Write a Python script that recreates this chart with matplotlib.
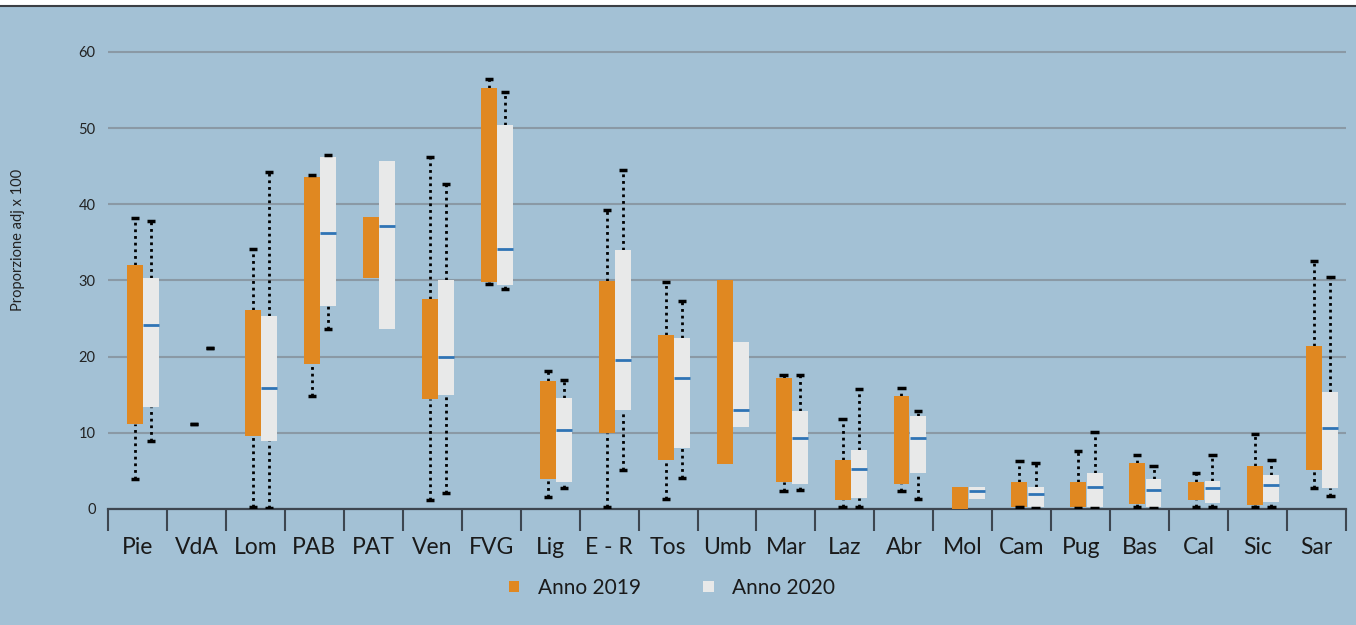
import numpy as np
import matplotlib
matplotlib.use("Agg")
import matplotlib.pyplot as plt
from matplotlib.patches import Patch, Rectangle
from matplotlib.lines import Line2D

plt.rcParams['font.family'] = ['Lato', 'DejaVu Sans']

regioni = ['Pie', 'VdA', 'Lom', 'PAB', 'PAT', 'Ven', 'FVG', 'Lig', 'E - R', 'Tos', 'Umb',
           'Mar', 'Laz', 'Abr', 'Mol', 'Cam', 'Pug', 'Bas', 'Cal', 'Sic', 'Sar']

# Anno 2019 (None = non disponibile)
lo_2019 = [3.9, 11.2, 0.2, 14.9, None, 1.2, 29.5, 1.6, 0.3, 1.3, None, 2.3, 0.3, 2.3, None, 0.2, 0.1, 0.3, 0.3, 0.3, 2.8]
q1_2019 = [11.2, None, 9.6, 19.1, 30.3, 14.5, 29.8, 4.0, 10.0, 6.4, 5.9, 3.5, 1.2, 3.3, 0.0, 0.3, 0.2, 0.7, 1.2, 0.5, 5.1]
q3_2019 = [32.1, None, 26.1, 43.6, 38.4, 27.6, 55.3, 16.8, 29.9, 22.9, 30.0, 17.2, 6.4, 14.9, 2.9, 3.5, 3.5, 6.0, 3.6, 5.6, 21.4]
hi_2019 = [38.2, 11.2, 34.1, 43.9, None, 46.2, 56.4, 18.1, 39.2, 29.8, None, 17.6, 11.8, 15.9, None, 6.3, 7.6, 7.1, 4.7, 9.9, 32.5]

# Anno 2020
lo_2020 = [8.9, 21.2, 0.1, 23.6, None, 2.1, 28.9, 2.7, 5.1, 4.1, None, 2.5, 0.3, 1.3, None, 0.1, 0.1, 0.1, 0.3, 0.3, 1.7]
q1_2020 = [13.4, None, 8.9, 26.6, 23.6, 15.0, 29.4, 3.6, 13.0, 8.0, 10.8, 3.3, 1.5, 4.7, 1.3, 0.2, 0.2, 0.2, 0.8, 0.9, 2.8]
med_2020 = [24.2, None, 15.9, 36.3, 37.1, 20.0, 34.1, 10.4, 19.6, 17.2, 13.0, 9.3, 5.3, 9.3, 2.3, 2.0, 2.9, 2.5, 2.7, 3.2, 10.7]
q3_2020 = [30.3, None, 25.3, 46.2, 45.7, 30.0, 50.4, 14.6, 34.0, 22.5, 21.9, 12.9, 7.7, 12.2, 2.9, 2.9, 4.7, 3.9, 3.7, 4.5, 15.3]
hi_2020 = [37.8, 21.2, 44.2, 46.5, None, 42.7, 54.8, 17.0, 44.5, 27.3, None, 17.6, 15.8, 12.9, None, 6.1, 10.1, 5.6, 7.1, 6.4, 30.4]

BG = '#a3c1d5'
ORANGE = '#e08821'
LIGHT = '#e8e9e9'
BLUE = '#2f74b5'


def arr(v):
    return np.array([np.nan if a is None else a for a in v], dtype=float)


fig = plt.figure(figsize=(13.56, 6.25), dpi=100, facecolor=BG)
fig.add_artist(Rectangle((0, 1 - 5 / 625), 1, 5 / 625, transform=fig.transFigure,
                         facecolor='white', edgecolor='none'))
fig.add_artist(Line2D([0, 1], [1 - 5.5 / 625] * 2, transform=fig.transFigure,
                      color='#3b3f44', lw=1.5))

ax = fig.add_axes([108 / 1356, 1 - 509 / 625, (1346 - 108) / 1356, (509 - 20) / 625])
ax.set_facecolor(BG)

n = len(regioni)
centers = np.arange(n) + 0.5
w = 0.27
cw = 0.14


def draw(xpos, lo, q1, q3, hi, color, med=None):
    lo, q1, q3, hi = arr(lo), arr(q1), arr(q3), arr(hi)
    ax.bar(xpos, q3 - q1, bottom=q1, width=w, color=color, edgecolor='none', zorder=3)
    ok = ~np.isnan(hi) & ~np.isnan(q3)
    ax.vlines(xpos[ok], q3[ok], hi[ok], colors='black', lw=2, linestyles=(0, (1, 1.4)), zorder=2)
    ok = ~np.isnan(lo) & ~np.isnan(q1)
    ax.vlines(xpos[ok], lo[ok], q1[ok], colors='black', lw=2, linestyles=(0, (1, 1.4)), zorder=2)
    ax.hlines(hi, xpos - cw / 2, xpos + cw / 2, colors='black', lw=2.5, zorder=4)
    ax.hlines(lo, xpos - cw / 2, xpos + cw / 2, colors='black', lw=2.5, zorder=4)
    if med is not None:
        med = arr(med)
        ax.hlines(med, xpos - w / 2, xpos + w / 2, colors=BLUE, lw=2, zorder=4)


draw(centers - 0.04, lo_2019, q1_2019, q3_2019, hi_2019, ORANGE)
draw(centers + 0.235, lo_2020, q1_2020, q3_2020, hi_2020, LIGHT, med_2020)

ax.set_xlim(0, n)
ax.set_ylim(0, 64.2)

for s in ['top', 'right', 'left']:
    ax.spines[s].set_visible(False)
ax.spines['bottom'].set_color('#3d4650')
ax.spines['bottom'].set_linewidth(1.6)

ax.set_yticks(range(0, 61, 10))
ax.tick_params(axis='y', length=0, pad=9, labelsize=10.5, labelcolor='#222222')
ax.yaxis.grid(True, color='#8a99a5', lw=1.5, zorder=0)
ax.set_axisbelow(True)

ax.set_xticks(np.arange(n + 1))
ax.set_xticklabels([])
ax.tick_params(axis='x', which='major', length=16, width=1.5, color='#3d4650')
ax.set_xticks(centers, minor=True)
ax.set_xticklabels(regioni, minor=True)
ax.tick_params(axis='x', which='minor', length=0, pad=20, labelsize=16.5, labelcolor='#1a1a1a')

fig.text(18 / 1356, 1 - 240 / 625, 'Proporzione adj x 100', rotation=90,
         ha='center', va='center', fontsize=10.5, color='#222222')

handles = [Patch(facecolor=ORANGE, edgecolor='none'), Patch(facecolor=LIGHT, edgecolor='none')]
fig.legend(handles, ['Anno 2019', 'Anno 2020'], loc='center', ncol=2,
           bbox_to_anchor=(672 / 1356, 1 - 588 / 625), frameon=False,
           fontsize=15, handlelength=0.5, handleheight=0.45, handletextpad=0.9,
           columnspacing=3.0, labelcolor='#1a1a1a')

fig.savefig('out.png', dpi=100, facecolor=BG)
